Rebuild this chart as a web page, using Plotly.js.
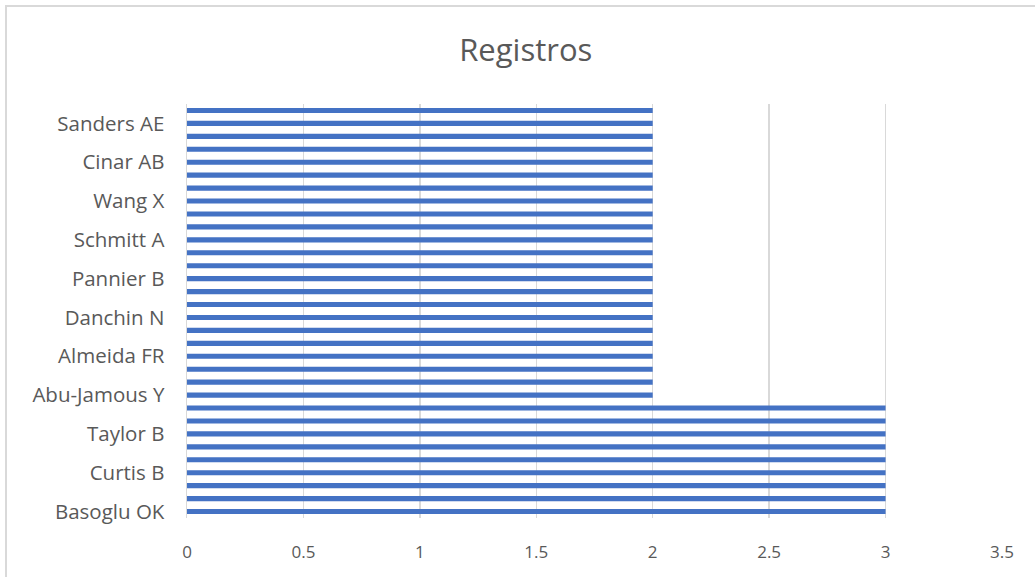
<!DOCTYPE html>
<html>
<head>
<meta charset="utf-8">
<script src="https://cdn.plot.ly/plotly-3.0.1.min.js"></script>
<style>
html, body { margin: 0; padding: 0; background: #fff; }
#wrap { position: relative; width: 1035px; height: 577px; overflow: hidden; }
#chart { width: 1035px; height: 577px; }
#frame { position: absolute; left: 5px; top: 5px; width: 1040px; height: 580px;
  border-left: 2px solid #d9d9d9; border-top: 2px solid #d9d9d9; pointer-events: none; box-sizing: border-box; }
</style>
</head>
<body>
<div id="wrap"><div id="chart"></div><div id="frame"></div></div>
<script>
// Categories, bottom to top (only every third label is visible in the reference)
const categories = [
  "Basoglu OK", "(autor 2)", "(autor 3)",
  "Curtis B", "(autor 5)", "(autor 6)",
  "Taylor B", "(autor 8)", "(autor 9)",
  "Abu-Jamous Y", "(autor 11)", "(autor 12)",
  "Almeida FR", "(autor 14)", "(autor 15)",
  "Danchin N", "(autor 17)", "(autor 18)",
  "Pannier B", "(autor 20)", "(autor 21)",
  "Schmitt A", "(autor 23)", "(autor 24)",
  "Wang X", "(autor 26)", "(autor 27)",
  "Cinar AB", "(autor 29)", "(autor 30)",
  "Sanders AE", "(autor 32)"
];
const registros = [
  3, 3, 3, 3, 3, 3, 3, 3, 3,
  2, 2, 2, 2, 2, 2, 2, 2, 2, 2, 2, 2, 2, 2, 2, 2, 2, 2, 2, 2, 2, 2, 2
];
const visibleLabels = ["Basoglu OK", "Curtis B", "Taylor B", "Abu-Jamous Y", "Almeida FR",
  "Danchin N", "Pannier B", "Schmitt A", "Wang X", "Cinar AB", "Sanders AE"];
const xTicks = [0, 0.5, 1, 1.5, 2, 2.5, 3, 3.5];
const xTickText = ["0", "0.5", "1", "1.5", "2", "2.5", "3", "3.5"];

const trace = {
  type: "bar",
  orientation: "h",
  y: categories,
  x: registros,
  marker: { color: "#4472C4" },
  hoverinfo: "x+y"
};

const layout = {
  width: 1035,
  height: 577,
  margin: { l: 187, r: 33, t: 103.5, b: 58.5 },
  paper_bgcolor: "#ffffff",
  plot_bgcolor: "#ffffff",
  bargap: 0.6,
  showlegend: false,
  font: { family: "Open Sans, sans-serif", color: "#595959" },
  title: {
    text: "Registros",
    x: 0.508, xanchor: "center",
    y: 0.913, yanchor: "middle",
    font: { family: "Open Sans, sans-serif", size: 31, color: "#595959" }
  },
  xaxis: {
    range: [0, 3.5],
    tickvals: xTicks,
    ticktext: xTickText,
    showgrid: true,
    gridcolor: "#d9d9d9",
    gridwidth: 1.5,
    zeroline: false,
    showline: false,
    ticks: "",
    tickfont: { size: 17, color: "#595959" },
    ticklabelstandoff: 22,
    fixedrange: true
  },
  yaxis: {
    type: "category",
    categoryorder: "array",
    categoryarray: categories,
    tickvals: visibleLabels,
    ticktext: visibleLabels,
    showgrid: false,
    zeroline: false,
    showline: true,
    linecolor: "#d9d9d9",
    linewidth: 1.5,
    ticks: "",
    tickfont: { size: 20.5, color: "#595959" },
    ticklabelstandoff: 17,
    fixedrange: true
  }
};

Plotly.newPlot("chart", [trace], layout, { displayModeBar: false, staticPlot: true });
</script>
</body>
</html>
